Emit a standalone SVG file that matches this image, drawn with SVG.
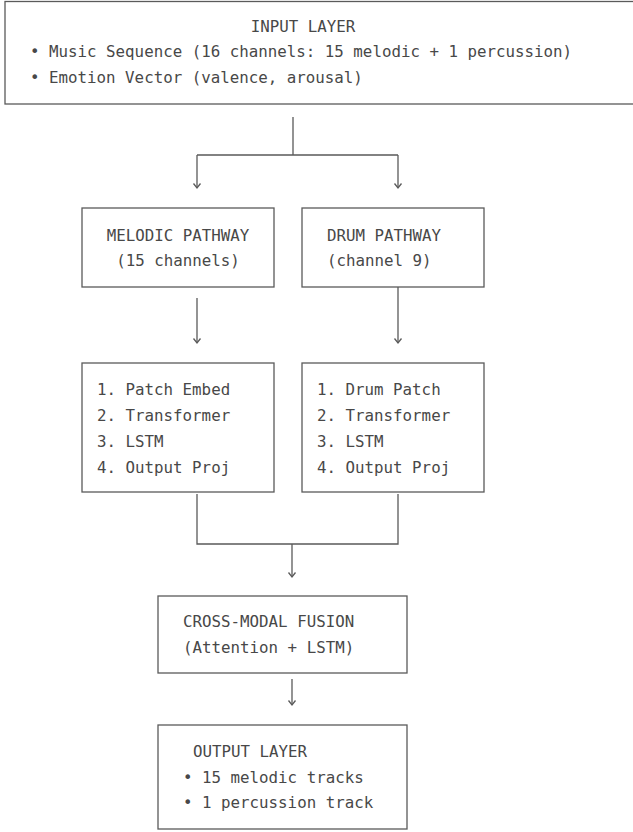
<svg xmlns="http://www.w3.org/2000/svg" width="633" height="832" viewBox="0 0 633 832">
<style>
  .box{fill:#fff;stroke:#5a5a5a;stroke-width:1.3}
  .t{font-family:"DejaVu Sans Mono","Liberation Mono",monospace;font-size:15.8px;fill:#484848}
  .c{text-anchor:middle}
  .ln{fill:none;stroke:#5a5a5a;stroke-width:1.3}
</style>
<defs>
  <marker id="ah" markerUnits="userSpaceOnUse" markerWidth="12" markerHeight="12" viewBox="-6 -6 12 12" refX="0" refY="0" orient="auto">
    <path d="M-4.5,-3.5 L0,0 L-4.5,3.5" fill="none" stroke="#5a5a5a" stroke-width="1.3"/>
  </marker>
</defs>
<rect width="633" height="832" fill="#fff"/>
<g id="connectors">
  <path class="ln" d="M293,117 V155 M197,155 H398"/>
  <path class="ln" d="M197,155 V188" marker-end="url(#ah)"/>
  <path class="ln" d="M398,155 V188" marker-end="url(#ah)"/>
  <path class="ln" d="M197,298 V343" marker-end="url(#ah)"/>
  <path class="ln" d="M398,287 V343" marker-end="url(#ah)"/>
  <path class="ln" d="M197,494 V544 H398 V494"/>
  <path class="ln" d="M292,544 V577" marker-end="url(#ah)"/>
  <path class="ln" d="M292,679 V705" marker-end="url(#ah)"/>
</g>
<g id="input-layer">
  <rect class="box" x="5" y="1.5" width="640" height="102.5"/>
  <text class="t c" x="303" y="32">INPUT LAYER</text>
  <text class="t" x="30" y="57">• Music Sequence (16 channels: 15 melodic + 1 percussion)</text>
  <text class="t" x="30" y="83">• Emotion Vector (valence, arousal)</text>
</g>
<g id="melodic-pathway">
  <rect class="box" x="82" y="208" width="192" height="79"/>
  <text class="t c" x="178" y="241">MELODIC PATHWAY</text>
  <text class="t c" x="178" y="266">(15 channels)</text>
</g>
<g id="drum-pathway">
  <rect class="box" x="302" y="208" width="182" height="79"/>
  <text class="t" x="327" y="241">DRUM PATHWAY</text>
  <text class="t" x="327" y="266">(channel 9)</text>
</g>
<g id="melodic-steps">
  <rect class="box" x="82" y="363" width="192" height="129"/>
  <text class="t" x="97" y="395">1. Patch Embed</text>
  <text class="t" x="97" y="421">2. Transformer</text>
  <text class="t" x="97" y="447">3. LSTM</text>
  <text class="t" x="97" y="473">4. Output Proj</text>
</g>
<g id="drum-steps">
  <rect class="box" x="302" y="363" width="182" height="129"/>
  <text class="t" x="317" y="395">1. Drum Patch</text>
  <text class="t" x="317" y="421">2. Transformer</text>
  <text class="t" x="317" y="447">3. LSTM</text>
  <text class="t" x="317" y="473">4. Output Proj</text>
</g>
<g id="fusion">
  <rect class="box" x="158" y="596" width="249" height="77"/>
  <text class="t" x="183" y="627">CROSS-MODAL FUSION</text>
  <text class="t" x="183" y="653">(Attention + LSTM)</text>
</g>
<g id="output-layer">
  <rect class="box" x="158" y="725" width="249" height="104"/>
  <text class="t" x="193" y="757">OUTPUT LAYER</text>
  <text class="t" x="183" y="783">• 15 melodic tracks</text>
  <text class="t" x="183" y="808">• 1 percussion track</text>
</g>
</svg>
